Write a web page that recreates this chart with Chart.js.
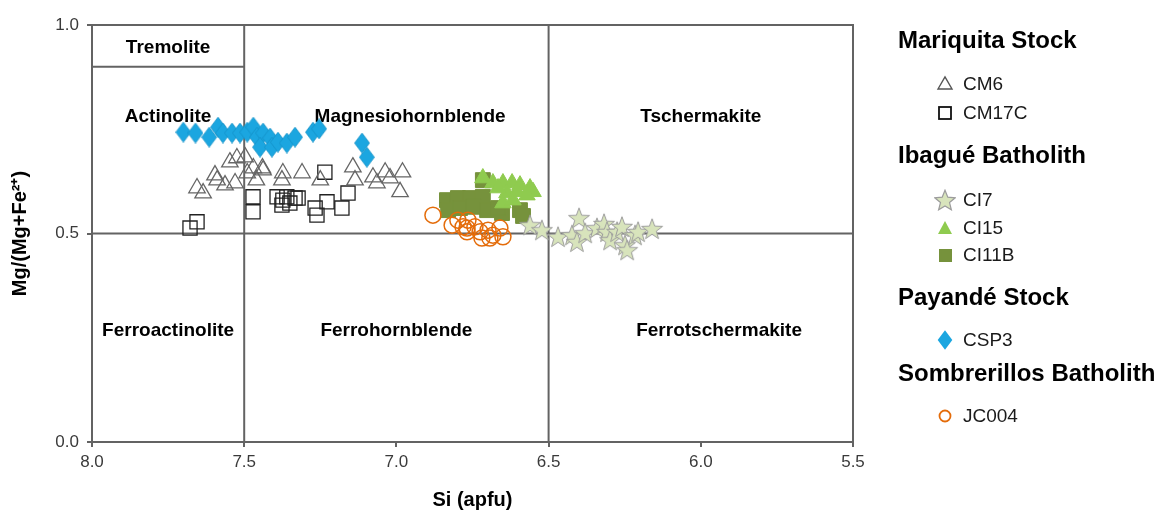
<!DOCTYPE html>
<html>
<head>
<meta charset="utf-8">
<script src="https://cdn.jsdelivr.net/npm/chart.js@4.4.1/dist/chart.umd.min.js"></script>
<style>
  body { margin: 0; background: #fff; font-family: "Liberation Sans", Arial, sans-serif; }
  #wrap { position: relative; width: 1158px; height: 512px; }
  #chart { position: absolute; left: 0; top: 0; }
  .lh { position: absolute; left: 898px; font-weight: bold; font-size: 24px; line-height: 28px; color: #000; white-space: nowrap; }
  .li { position: absolute; left: 963px; font-size: 19px; line-height: 22px; color: #1a1a1a; white-space: nowrap; }
  .ls { position: absolute; }
</style>
</head>
<body>
<div id="wrap">
  <canvas id="chart" width="1158" height="512"></canvas>
  <div id="legend"></div>
</div>
<script>
// Si (apfu) and Mg/(Mg+Fe2+) for each sample
const siCM6 = [7.655, 7.635, 7.596, 7.589, 7.563, 7.547, 7.53, 7.524, 7.497, 7.49, 7.47, 7.44, 7.46, 7.438, 7.373, 7.376, 7.31, 7.25, 7.143, 7.136, 7.077, 7.064, 7.037, 7.021, 6.98, 6.988];
const mgCM6 = [0.609, 0.597, 0.640, 0.628, 0.616, 0.671, 0.621, 0.681, 0.683, 0.645, 0.657, 0.657, 0.628, 0.652, 0.645, 0.628, 0.645, 0.628, 0.659, 0.628, 0.635, 0.621, 0.647, 0.633, 0.647, 0.600];

const siCM17C = [7.678, 7.655, 7.471, 7.471, 7.392, 7.376, 7.36, 7.373, 7.35, 7.333, 7.323, 7.267, 7.261, 7.228, 7.179, 7.159, 7.235];
const mgCM17C = [0.513, 0.528, 0.588, 0.552, 0.588, 0.568, 0.588, 0.580, 0.573, 0.585, 0.585, 0.561, 0.544, 0.576, 0.561, 0.597, 0.647];

const siCI7 = [6.561, 6.522, 6.469, 6.423, 6.407, 6.400, 6.380, 6.341, 6.318, 6.308, 6.298, 6.275, 6.259, 6.249, 6.242, 6.216, 6.206, 6.160];
const mgCI7 = [0.520, 0.508, 0.492, 0.496, 0.480, 0.537, 0.501, 0.513, 0.523, 0.504, 0.484, 0.504, 0.516, 0.472, 0.460, 0.496, 0.504, 0.511];

const siCI15 = [6.716, 6.683, 6.650, 6.620, 6.594, 6.561, 6.551, 6.637, 6.604, 6.571, 6.650, 6.617, 6.666];
const mgCI15 = [0.633, 0.621, 0.621, 0.621, 0.616, 0.609, 0.600, 0.597, 0.600, 0.592, 0.573, 0.580, 0.609];

const siCI11B = [6.834, 6.798, 6.758, 6.716, 6.830, 6.791, 6.748, 6.702, 6.653, 6.594, 6.584, 6.716, 6.666];
const mgCI11B = [0.580, 0.585, 0.585, 0.588, 0.556, 0.561, 0.564, 0.556, 0.549, 0.556, 0.542, 0.628, 0.561];

const siCSP3 = [7.70, 7.66, 7.615, 7.586, 7.57, 7.54, 7.514, 7.49, 7.47, 7.458, 7.438, 7.448, 7.415, 7.409, 7.389, 7.36, 7.333, 7.274, 7.254, 7.113, 7.097];
const mgCSP3 = [0.743, 0.741, 0.731, 0.755, 0.741, 0.741, 0.741, 0.743, 0.755, 0.731, 0.741, 0.707, 0.729, 0.707, 0.719, 0.717, 0.731, 0.743, 0.751, 0.717, 0.683];

const siJC004 = [6.880, 6.817, 6.798, 6.765, 6.768, 6.742, 6.725, 6.699, 6.719, 6.683, 6.660, 6.650, 6.768, 6.693, 6.781];
const mgJC004 = [0.544, 0.520, 0.532, 0.532, 0.513, 0.516, 0.504, 0.508, 0.489, 0.496, 0.513, 0.492, 0.504, 0.489, 0.516];

const siTicks = [8.0, 7.5, 7.0, 6.5, 6.0, 5.5];
const mgTicks = [0.0, 0.5, 1.0];

// field boundaries of the amphibole diagram (Si1, Mg1, Si2, Mg2)
const boundaries = [
  [7.5, 0, 7.5, 1],
  [6.5, 0, 6.5, 1],
  [8.0, 0.5, 5.5, 0.5],
  [8.0, 0.9, 7.5, 0.9]
];
const fieldNames = ['Tremolite', 'Actinolite', 'Magnesiohornblende', 'Tschermakite', 'Ferroactinolite', 'Ferrohornblende', 'Ferrotschermakite'];
const fieldSi = [7.75, 7.75, 6.955, 6.0, 7.75, 7.0, 5.94];
const fieldMg = [0.945, 0.78, 0.78, 0.78, 0.266, 0.266, 0.266];

function pts(xs, ys) { return xs.map((v, i) => ({ x: v, y: ys[i] })); }

function starCanvas() {
  const c = document.createElement('canvas');
  c.width = 24; c.height = 24;
  const g = c.getContext('2d');
  g.beginPath();
  for (let i = 0; i < 10; i++) {
    const r = i % 2 ? 4.5 : 11;
    const a = -Math.PI / 2 + i * Math.PI / 5;
    g.lineTo(12 + r * Math.cos(a), 12.8 + r * Math.sin(a));
  }
  g.closePath();
  g.fillStyle = '#d8e4bc';
  g.fill();
  g.strokeStyle = '#9c9c9c';
  g.lineWidth = 1;
  g.stroke();
  return c;
}

function diamondCanvas() {
  const c = document.createElement('canvas');
  c.width = 16; c.height = 21;
  const g = c.getContext('2d');
  g.beginPath();
  g.moveTo(8, 0.5); g.lineTo(15.5, 10.5); g.lineTo(8, 20.5); g.lineTo(0.5, 10.5);
  g.closePath();
  g.fillStyle = '#1ba6e0';
  g.fill();
  g.strokeStyle = '#1592c8';
  g.lineWidth = 0.8;
  g.stroke();
  return c;
}

const diagram = {
  id: 'diagram',
  beforeDatasetsDraw(chart) {
    const { ctx, chartArea: a, scales: { x, y } } = chart;
    ctx.save();
    ctx.strokeStyle = '#636363';
    ctx.lineWidth = 2;
    ctx.strokeRect(a.left, a.top, a.right - a.left, a.bottom - a.top);
    boundaries.forEach(b => {
      ctx.beginPath();
      ctx.moveTo(x.getPixelForValue(b[0]), y.getPixelForValue(b[1]));
      ctx.lineTo(x.getPixelForValue(b[2]), y.getPixelForValue(b[3]));
      ctx.stroke();
    });
    ctx.fillStyle = '#000';
    ctx.font = 'bold 19px "Liberation Sans", Arial, sans-serif';
    ctx.textAlign = 'center';
    ctx.textBaseline = 'middle';
    fieldNames.forEach((n, i) => {
      ctx.fillText(n, x.getPixelForValue(fieldSi[i]), y.getPixelForValue(fieldMg[i]));
    });
    ctx.restore();
  }
};

const tickFont = { family: '"Liberation Sans", Arial, sans-serif', size: 17 };
const titleFont = { family: '"Liberation Sans", Arial, sans-serif', size: 20, weight: 'bold' };

new Chart(document.getElementById('chart'), {
  type: 'scatter',
  data: {
    datasets: [
      { label: 'CSP3', data: pts(siCSP3, mgCSP3), pointStyle: diamondCanvas(), order: 1 },
      { label: 'JC004', data: pts(siJC004, mgJC004), pointStyle: 'circle', pointRadius: 8,
        borderColor: '#e46c0a', backgroundColor: 'rgba(0,0,0,0)', borderWidth: 1.5, order: 2 },
      { label: 'CI7', data: pts(siCI7, mgCI7), pointStyle: starCanvas(), order: 3 },
      { label: 'CI15', data: pts(siCI15, mgCI15), pointStyle: 'triangle', pointRadius: 9.5,
        borderColor: '#8fcb4f', backgroundColor: '#8fcb4f', borderWidth: 1, order: 4 },
      { label: 'CI11B', data: pts(siCI11B, mgCI11B), pointStyle: 'rect', pointRadius: 10.5,
        borderColor: '#76923c', backgroundColor: '#76923c', borderWidth: 1, order: 5 },
      { label: 'CM6', data: pts(siCM6, mgCM6), pointStyle: 'triangle', pointRadius: 9.5,
        borderColor: '#666', backgroundColor: 'rgba(0,0,0,0)', borderWidth: 1.3, order: 6 },
      { label: 'CM17C', data: pts(siCM17C, mgCM17C), pointStyle: 'rect', pointRadius: 10,
        borderColor: '#222', backgroundColor: 'rgba(0,0,0,0)', borderWidth: 1.3, order: 7 }
    ]
  },
  options: {
    responsive: false,
    animation: false,
    layout: { padding: { top: 25, right: 305, left: 0, bottom: 0 } },
    plugins: { legend: { display: false }, tooltip: { enabled: false } },
    scales: {
      x: {
        type: 'linear', reverse: true, min: 5.5, max: 8.0,
        afterBuildTicks: s => { s.ticks = siTicks.map(v => ({ value: v })); },
        afterFit: s => { s.height = 70; },
        ticks: { color: '#3a3a3a', font: tickFont, padding: 5, callback: v => v.toFixed(1) },
        grid: { display: true, drawOnChartArea: false, drawTicks: true, tickLength: 5, color: '#636363', lineWidth: 2 },
        border: { display: false },
        title: { display: true, text: 'Si (apfu)', color: '#000', font: titleFont, padding: { top: 1, bottom: 0 } }
      },
      y: {
        type: 'linear', min: 0, max: 1,
        afterBuildTicks: s => { s.ticks = mgTicks.map(v => ({ value: v })); },
        afterFit: s => { s.width = 92; },
        ticks: { color: '#3a3a3a', font: tickFont, padding: 8, callback: v => v.toFixed(1) },
        grid: { display: true, drawOnChartArea: false, drawTicks: true, tickLength: 5, color: '#636363', lineWidth: 2 },
        border: { display: false },
        title: { display: true, text: 'Mg/(Mg+Fe²⁺)', color: '#000', font: titleFont, padding: { top: 8, bottom: 0 } }
      }
    }
  },
  plugins: [diagram]
});

// grouped legend
const legendRows = [
  ['h', 'Mariquita Stock', 40],
  ['i', 'CM6', 84, '<polygon points="1,13 8,1 15,13" fill="none" stroke="#555" stroke-width="1.4"/>'],
  ['i', 'CM17C', 113, '<rect x="2" y="2" width="12" height="12" fill="none" stroke="#111" stroke-width="1.8"/>'],
  ['h', 'Ibagué Batholith', 155],
  ['i', 'CI7', 200, '<polygon points="8,0 10.3,5.7 16.4,6.2 11.7,10.1 13.2,16 8,12.8 2.8,16 4.3,10.1 -0.4,6.2 5.7,5.7" fill="#d8e4bc" stroke="#9c9c9c" stroke-width="1"/>'],
  ['i', 'CI15', 228, '<polygon points="1,14 8,1 15,14" fill="#8fcb4f"/>'],
  ['i', 'CI11B', 255, '<rect x="2" y="2" width="13" height="13" fill="#76923c"/>'],
  ['h', 'Payandé Stock', 297],
  ['i', 'CSP3', 340, '<polygon points="8,0 14,8 8,16 2,8" fill="#1ba6e0"/>'],
  ['h', 'Sombrerillos Batholith', 373],
  ['i', 'JC004', 416, '<circle cx="8" cy="8" r="5.5" fill="none" stroke="#e46c0a" stroke-width="1.8"/>']
];
const lg = document.getElementById('legend');
legendRows.forEach(r => {
  const d = document.createElement('div');
  d.className = r[0] === 'h' ? 'lh' : 'li';
  d.textContent = r[1];
  d.style.top = (r[2] - (r[0] === 'h' ? 14 : 11)) + 'px';
  lg.appendChild(d);
  if (r[3]) {
    const big = r[1] === 'CI7' || r[1] === 'CSP3';
    const s = document.createElementNS('http://www.w3.org/2000/svg', 'svg');
    s.setAttribute('class', 'ls');
    s.setAttribute('width', '18');
    s.setAttribute('height', '18');
    s.setAttribute('viewBox', '-1 -1 18 18');
    if (big) { s.setAttribute('width', '22'); s.setAttribute('height', '22'); }
    s.style.left = (big ? 934 : 936) + 'px';
    s.style.top = (r[2] - (big ? 11 : 9)) + 'px';
    s.innerHTML = r[3];
    lg.appendChild(s);
  }
});
</script>
</body>
</html>
